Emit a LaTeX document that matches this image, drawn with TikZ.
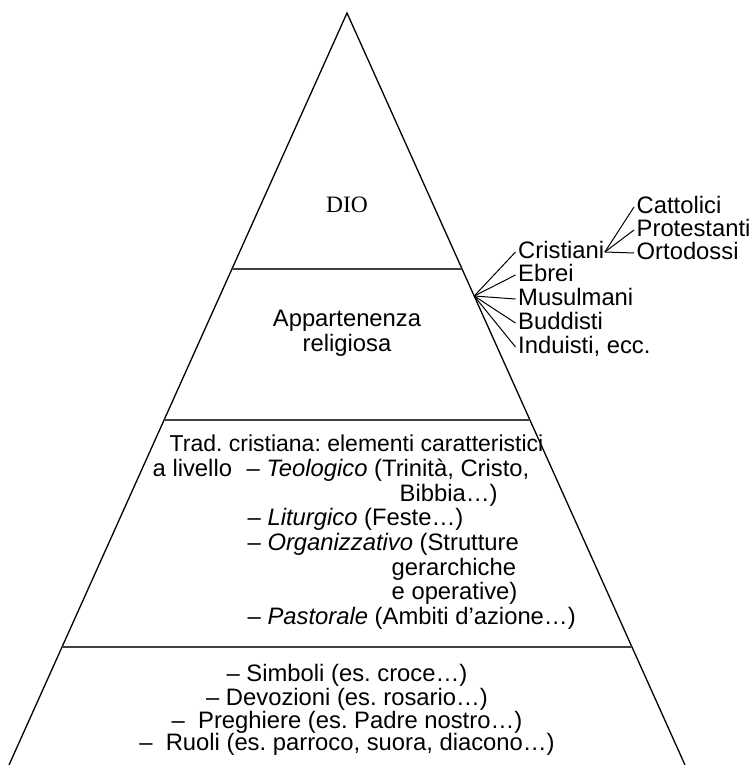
\documentclass[tikz,border=0pt]{standalone}
\usepackage{fontspec}
\setmainfont{Liberation Sans}
\newfontfamily\seriffam{Liberation Serif}
\frenchspacing
\begin{document}
\begin{tikzpicture}[x=1pt,y=-1pt,
  lbl/.style={font=\frenchspacing\fontsize{23.8}{24.5}\selectfont, inner ysep=0pt, inner xsep=2.5pt, text height=17pt, text depth=5pt},
  tradhead/.style={lbl, font=\frenchspacing\fontsize{23}{24.5}\selectfont},
  side/.style={line width=1.3pt, black},
  tier/.style={line width=1.3pt, black!75},
  fan/.style={line width=1pt, black}]
\useasboundingbox (0,0) rectangle (752,765);
% pyramid
\coordinate (apex) at (347,13);
\coordinate (bl) at (9,765);
\coordinate (br) at (685,765);
\draw[side] (bl) -- (apex) -- (br);
\coordinate (t1l) at (232,269); \coordinate (t1r) at (462,269);
\coordinate (t2l) at (164,420); \coordinate (t2r) at (530,420);
\coordinate (t3l) at (62,647);  \coordinate (t3r) at (632,647);
\draw[tier] (t1l) -- (t1r);
\draw[tier] (t2l) -- (t2r);
\draw[tier] (t3l) -- (t3r);
% level 1
\node[font=\seriffam\fontsize{23.5}{24}\selectfont] (dio) at (347,205) {DIO};
% level 2
\node[lbl, anchor=base] (app1) at (347,326) {Appartenenza};
\node[lbl, anchor=base] (app2) at (347,351) {religiosa};
% level 3
\node[tradhead, anchor=base west] (tr1) at (167,451) {Trad. cristiana: elementi caratteristici};
\node[lbl, anchor=base west] (tr2a) at (150,476) {a livello};
\node[lbl, anchor=base west] (tr2b) at (244,476) {– \textit{Teologico} (Trinità, Cristo,};
\node[lbl, anchor=base west] (tr3) at (397,501) {Bibbia…)};
\node[lbl, anchor=base west] (tr4) at (245,525) {– \textit{Liturgico} (Feste…)};
\node[lbl, anchor=base west] (tr5) at (245,550) {– \textit{Organizzativo} (Strutture};
\node[lbl, anchor=base west] (tr6) at (389,575) {gerarchiche};
\node[lbl, anchor=base west] (tr7) at (389,599) {e operative)};
\node[lbl, anchor=base west] (tr8) at (245,624) {– \textit{Pastorale} (Ambiti d’azione…)};
% level 4
\node[lbl, anchor=base] (b1) at (347,681) {– Simboli (es. croce…)};
\node[lbl, anchor=base] (b2) at (347,705) {– Devozioni (es. rosario…)};
\node[lbl, anchor=base] (b3) at (347,728) {–\ \ Preghiere (es. Padre nostro…)};
\node[lbl, anchor=base] (b4) at (347,750) {–\ \ Ruoli (es. parroco, suora, diacono…)};
% religions fan
\coordinate (fo) at (474.2,296);
\node[lbl, anchor=base west] (cri) at (515.5,258) {Cristiani};
\node[lbl, anchor=base west] (ebr) at (515.5,281) {Ebrei};
\node[lbl, anchor=base west] (mus) at (515.5,305) {Musulmani};
\node[lbl, anchor=base west] (bud) at (515.5,329) {Buddisti};
\node[lbl, anchor=base west] (ind) at (515.5,353) {Induisti, ecc.};
\foreach \n in {cri,ebr,mus,bud,ind} \draw[fan] (fo) -- (\n.west);
% christian sub fan
\node[lbl, anchor=base west] (cat) at (634,213) {Cattolici};
\node[lbl, anchor=base west] (pro) at (634,236) {Protestanti};
\node[lbl, anchor=base west] (ort) at (634,259) {Ortodossi};
\foreach \n in {cat,pro,ort} \draw[fan] ([xshift=-2pt]cri.east) -- (\n.west);
\end{tikzpicture}
\end{document}
